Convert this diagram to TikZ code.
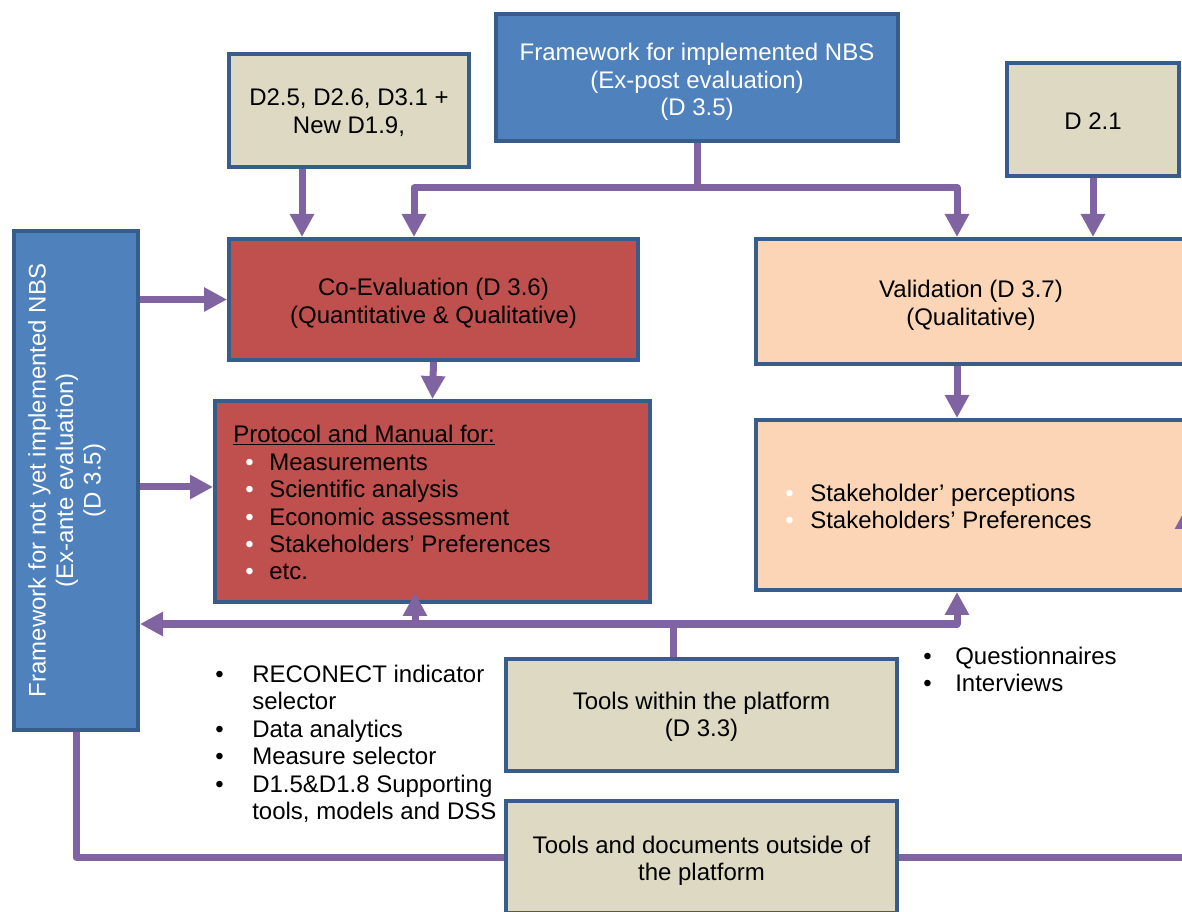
\documentclass[tikz,border=0pt]{standalone}
\usepackage{fontspec}
\setmainfont{Liberation Sans}
\usetikzlibrary{arrows.meta}
\definecolor{bfill}{HTML}{4F81BD}
\definecolor{bord}{HTML}{385D8A}
\definecolor{tan}{HTML}{DDD9C3}
\definecolor{redf}{HTML}{C0504D}
\definecolor{peach}{HTML}{FBD5B5}
\definecolor{purp}{HTML}{8064A2}
\newcommand\mybul[2]{\makebox[#1][l]{\color{#2}\textbullet}}
\begin{document}
\begin{tikzpicture}[x=0.75pt,y=-0.75pt,
  txt/.style={font=\fontsize{18pt}{20.6pt}\selectfont},
  box/.style={draw=bord, line width=3pt, inner sep=0pt},
  bt/.style={txt, align=center, inner sep=0pt, yshift=-3pt},
  bluebox/.style={box, fill=bfill},
  tanbox/.style={box, fill=tan},
  redbox/.style={box, fill=redf},
  peachbox/.style={box, fill=peach},
  listtext/.style={txt, align=left, inner sep=0pt, anchor=north west},
  link/.style={draw=purp, line width=5.25pt, line join=round},
  arr/.style={link, -{Triangle[width=17.25pt,length=17.25pt]}}]
\useasboundingbox (0,0) rectangle (1182,912);
\clip (0,0) rectangle (1182,912);

% boxes
\node[tanbox, minimum width=180pt, minimum height=84.75pt,
  label={[bt, yshift=1.5pt]center:D2.5, D2.6, D3.1 +\\New D1.9,}] (D25) at (349,110.5) {};
\node[bluebox, minimum width=301.5pt, minimum height=95.25pt,
  label={[bt, text=white, yshift=-0.5pt]center:Framework for implemented NBS\\(Ex-post evaluation)\\(D 3.5)}] (FwTop) at (697,77.5) {};
\node[tanbox, minimum width=129pt, minimum height=84.75pt,
  label={[bt, yshift=1.5pt]center:D 2.1}] (D21) at (1093,119.5) {};
\node[bluebox, minimum width=93pt, minimum height=374.25pt] (FwLeft) at (76,480.5) {};
\node[txt, text=white, rotate=90, align=center, inner sep=0pt] (FwLeftText) at (67,480.5) {Framework for not yet implemented NBS\\(Ex-ante evaluation)\\(D 3.5)};
\node[redbox, minimum width=306.75pt, minimum height=90.75pt,
  label={[bt]center:Co-Evaluation (D 3.6)\\(Quantitative \& Qualitative)}] (CoEval) at (433.5,299.5) {};
\node[redbox, minimum width=326.25pt, minimum height=150.75pt] (Protocol) at (432.5,501.5) {};
\node[peachbox, minimum width=322.5pt, minimum height=93.75pt,
  label={[bt]center:Validation (D 3.7)\\(Qualitative)}] (Valid) at (971,301.5) {};
\node[peachbox, minimum width=322.5pt, minimum height=127.5pt] (Stake) at (971,505) {};
\node[tanbox, minimum width=293.25pt, minimum height=84pt,
  label={[bt, yshift=1.5pt]center:Tools within the platform\\(D 3.3)}] (ToolsIn) at (701.5,715) {};
\node[tanbox, minimum width=293.25pt, minimum height=84pt,
  label={[bt]center:Tools and documents outside of\\the platform}] (ToolsOut) at (701.5,857) {};

% lists
\node[listtext] (ProtList) at (233,425) {\underline{Protocol and Manual for:}\\
\hspace*{9pt}\mybul{18pt}{white}Measurements\\
\hspace*{9pt}\mybul{18pt}{white}Scientific analysis\\
\hspace*{9pt}\mybul{18pt}{white}Economic assessment\\
\hspace*{9pt}\mybul{18pt}{white}Stakeholders’ Preferences\\
\hspace*{9pt}\mybul{18pt}{white}etc.};
\node[listtext] (StakeList) at (785,483.5) {\mybul{18.75pt}{white}Stakeholder’ perceptions\\
\mybul{18.75pt}{white}Stakeholders’ Preferences};
\node[listtext] (ToolList) at (215,664.5) {\mybul{27.75pt}{black}RECONECT indicator\\
\hspace*{27.75pt}selector\\
\mybul{27.75pt}{black}Data analytics\\
\mybul{27.75pt}{black}Measure selector\\
\mybul{27.75pt}{black}D1.5\&D1.8 Supporting\\
\hspace*{27.75pt}tools, models and DSS};
\node[listtext] (QList) at (923,646.5) {\mybul{24pt}{black}Questionnaires\\
\mybul{24pt}{black}Interviews};

% connector helpers
\coordinate (busT) at (697,188);
\coordinate (xCE) at (414,0);
\coordinate (xD25) at (302,0);
\coordinate (xV) at (957,0);
\coordinate (yP) at (0,487);
\coordinate (busB) at (673,624);
\coordinate (xPu) at (415,0);
\coordinate (yPt) at (0,593);
\coordinate (xR) at (1187,0);
\coordinate (yRt) at (0,506);

% connectors
\draw[link] (FwTop.south) -- (busT);
\draw[arr] (busT) -| (CoEval.north -| xCE);
\draw[arr] (busT) -| (Valid.north -| xV);
\draw[arr] (D25.south -| xD25) -- (CoEval.north -| xD25);
\draw[arr] (D21.south) -- (D21.south |- Valid.north);
\draw[arr] (FwLeft.east |- CoEval.west) -- (CoEval.west);
\draw[arr] (FwLeft.east |- yP) -- (Protocol.west |- yP);
\draw[arr] (CoEval.south) -- (Protocol.north);
\draw[arr] (Valid.south -| xV) -- (Stake.north -| xV);
\draw[arr] (ToolsIn.north -| busB) -- (busB) -- (FwLeft.east |- busB);
\draw[arr] (busB) -| (Stake.south -| xV);
\draw[arr] (busB -| xPu) -- (yPt -| xPu);
\draw[link] (FwLeft.south) |- (ToolsOut.west);
\draw[arr] (ToolsOut.east) -| (yRt -| xR);
\end{tikzpicture}
\end{document}
